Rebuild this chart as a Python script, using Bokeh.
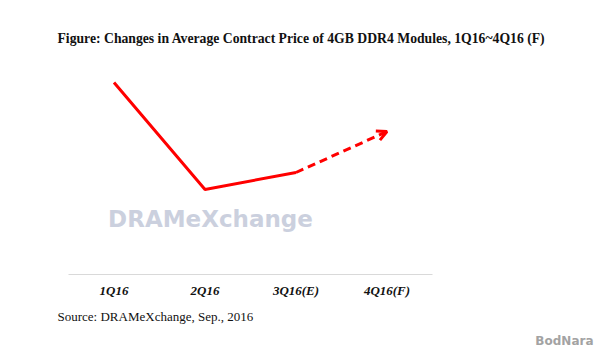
from bokeh.plotting import figure
from bokeh.models import Range1d, Label, Arrow, OpenHead, ColumnDataSource, FixedTicker, Title
from bokeh.embed import file_html
from bokeh.resources import INLINE

# ---- data (arbitrary price index) ----
quarters = ["1Q16", "2Q16", "3Q16(E)", "4Q16(F)"]
actual_idx = [0, 1, 2]
actual_vals = [19.2, 8.5, 10.2]
forecast_idx = [2, 3]
forecast_vals = [10.2, 14.3]

title_text = "Figure: Changes in Average Contract Price of 4GB DDR4 Modules, 1Q16~4Q16 (F)"
source_text = "Source: DRAMeXchange, Sep., 2016"
watermark_text = "DRAMeXchange"
brand_text = "BodNara"

p = figure(width=600, height=350, output_backend="svg", toolbar_location=None,
           x_range=Range1d(-0.5, 3.5), y_range=Range1d(0, 21.4),
           min_border_left=68, min_border_right=168, min_border_top=60, min_border_bottom=76)
p.outline_line_color = None
p.background_fill_color = "white"
p.border_fill_color = "white"
p.grid.visible = False
p.yaxis.visible = False

xa = p.xaxis[0]
xa.ticker = FixedTicker(ticks=list(range(len(quarters))))
xa.major_label_overrides = {i: q for i, q in enumerate(quarters)}
xa.axis_line_color = "#d9d9d9"
xa.axis_line_width = 1
xa.major_tick_line_color = None
xa.minor_tick_line_color = None
xa.major_tick_out = 0
xa.major_tick_in = 0
xa.major_label_text_font = "Liberation Serif"
xa.major_label_text_font_style = "bold italic"
xa.major_label_text_font_size = "13px"
xa.major_label_text_color = "#111111"
xa.major_label_standoff = 8

# watermark
p.add_layout(Label(x=142, y=56, x_units="screen", y_units="screen", text=watermark_text,
                   text_font="DejaVu Sans", text_font_style="bold", text_font_size="23px",
                   text_color="#cbd0de", text_align="center", text_baseline="middle"))

# actual line
p.line(actual_idx, actual_vals, line_color="#ff0000", line_width=3)

# forecast dashed arrow
src = ColumnDataSource(dict(x0=[forecast_idx[0]], y0=[forecast_vals[0]],
                            x1=[forecast_idx[1]], y1=[forecast_vals[1]]))
p.add_layout(Arrow(source=src, x_start="x0", y_start="y0", x_end="x1", y_end="y1",
                   line_color="#ff0000", line_width=3, line_dash="8 5",
                   end=OpenHead(size=10, line_color="#ff0000", line_width=3)))

# texts
p.add_layout(Title(text=title_text, align="left", offset=-11,
                   text_font="Liberation Serif", text_font_style="bold", text_font_size="13.7px",
                   text_color="#111111", standoff=30), "above")
p.add_layout(Title(text=source_text, align="left", offset=-11,
                   text_font="Liberation Serif", text_font_style="normal", text_font_size="13px",
                   text_color="#111111", standoff=12), "below")
p.add_layout(Title(text=brand_text, align="right", offset=-161,
                   text_font="DejaVu Sans", text_font_style="bold", text_font_size="12px",
                   text_color="#a3a3a3", standoff=5), "below")

open("out.html", "w").write(file_html(p, INLINE))
